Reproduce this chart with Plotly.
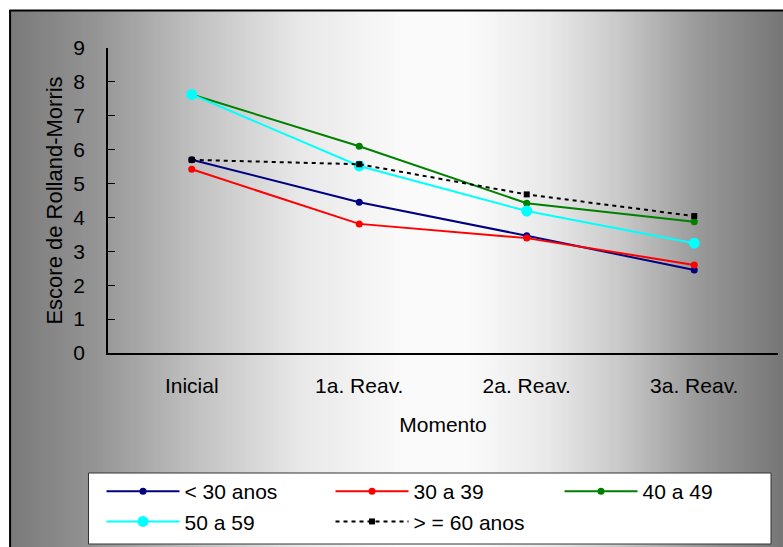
import plotly.graph_objects as go

categories = ["Inicial", "1a. Reav.", "2a. Reav.", "3a. Reav."]
series_names = ["< 30 anos", "30 a 39", "40 a 49", "50 a 59", "> = 60 anos"]
v_lt30 = [5.70, 4.45, 3.46, 2.45]
v_30_39 = [5.42, 3.81, 3.39, 2.60]
v_40_49 = [7.63, 6.10, 4.42, 3.87]
v_50_59 = [7.63, 5.52, 4.19, 3.24]
v_ge60 = [5.70, 5.57, 4.68, 4.04]
y_ticks = [0, 1, 2, 3, 4, 5, 6, 7, 8, 9]

W, H = 783, 547
L, R, T, B = 107.5, 778.0, 48.0, 353.0
pw, ph = R - L, B - T

def px2x(p):
    return (p - L) / pw

def py2y(p):
    return (B - p) / ph

fig = go.Figure()

styles = [
    dict(color="#000080", size=7, symbol="circle", dash="solid"),
    dict(color="#ff0000", size=7, symbol="circle", dash="solid"),
    dict(color="#008000", size=7, symbol="circle", dash="solid"),
    dict(color="#00ffff", size=11, symbol="circle", dash="solid"),
    dict(color="#000000", size=6, symbol="square", dash="4px,4px"),
]
all_vals = [v_lt30, v_30_39, v_40_49, v_50_59, v_ge60]
for name, vals, st in zip(series_names, all_vals, styles):
    fig.add_trace(go.Scatter(
        x=categories, y=vals, name=name, mode="lines+markers",
        line=dict(color=st["color"], width=2, dash=st["dash"]),
        marker=dict(color=st["color"], size=st["size"], symbol=st["symbol"]),
    ))

# gradient background (chart area)
stops = [(9, 122), (100, 150), (200, 195), (300, 232), (400, 250), (470, 250),
         (550, 232), (620, 200), (700, 152), (783, 118)]

def shade(p):
    for (a, ca), (b, cb) in zip(stops[:-1], stops[1:]):
        if a <= p <= b:
            return ca + (cb - ca) * (p - a) / (b - a)
    return stops[-1][1]

shapes = []
step = 3
p = 9
while p < 783:
    c = int(round(shade(p + step / 2)))
    shapes.append(dict(type="rect", xref="paper", yref="paper", layer="below",
                       x0=px2x(p), x1=px2x(min(p + step + 0.6, 784)),
                       y0=py2y(548), y1=py2y(10),
                       line=dict(width=0), fillcolor=f"rgb({c},{c},{c})"))
    p += step
# legend box
shapes.append(dict(type="rect", xref="paper", yref="paper", layer="below",
                   x0=px2x(88), x1=px2x(771), y0=py2y(544), y1=py2y(473),
                   line=dict(color="#333333", width=1), fillcolor="white"))
shapes.append(dict(type="line", xref="paper", yref="paper", layer="above",
                   x0=px2x(9), x1=px2x(784), y0=py2y(10.5), y1=py2y(10.5),
                   line=dict(color="black", width=2)))
shapes.append(dict(type="line", xref="paper", yref="paper", layer="above",
                   x0=px2x(9.5), x1=px2x(9.5), y0=py2y(10), y1=py2y(548),
                   line=dict(color="black", width=2)))

font = "Liberation Sans, Arial, sans-serif"
fig.update_layout(
    width=W, height=H,
    margin=dict(l=L, r=W - R, t=T, b=H - B, autoexpand=False),
    paper_bgcolor="white", plot_bgcolor="rgba(0,0,0,0)",
    font=dict(family=font, size=21, color="black"),
    shapes=shapes,
    showlegend=True,
    legend=dict(orientation="h", xanchor="left", yanchor="top",
                x=px2x(101), y=py2y(471),
                bgcolor="rgba(0,0,0,0)", borderwidth=0,
                font=dict(size=21), itemwidth=73, entrywidth=141,
                traceorder="normal"),
    xaxis=dict(range=[-0.5, 3.5], showgrid=False, zeroline=False,
               showline=True, linecolor="black", linewidth=1.5,
               ticks="", ticklabelstandoff=13,
               title=dict(text="Momento", standoff=21, font=dict(size=21))),
    yaxis=dict(range=[0, 9], tickvals=y_ticks, showgrid=False, zeroline=False,
               showline=True, linecolor="black", linewidth=1.5,
               ticks="inside", ticklen=7, tickcolor="black",
               ticklabelstandoff=17,
               title=dict(text="Escore de Rolland-Morris", standoff=5,
                          font=dict(size=22))),
)

fig.write_html("out.html")
